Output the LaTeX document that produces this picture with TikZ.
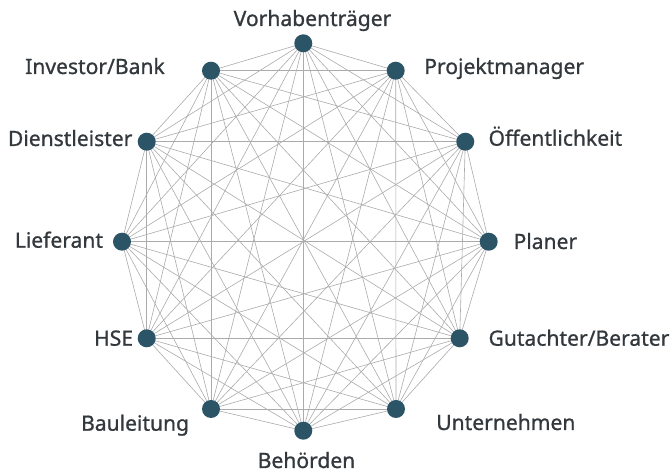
\documentclass[tikz,border=0pt]{standalone}
\usepackage{fontspec}
\setmainfont{Noto Sans}[FakeBold=0.9]
\usetikzlibrary{backgrounds}
\definecolor{dotblue}{RGB}{44,84,103}
\definecolor{labelgray}{RGB}{50,56,60}

\begin{document}
\begin{tikzpicture}[x=0.75pt, y=-0.75pt, font=\fontsize{15.8}{19}\selectfont\bfseries,
    dot/.style={circle, fill=dotblue, minimum size=13.5pt, inner sep=0pt},
    link/.style={black!33, line width=0.45pt},
    lbl/.style={text=labelgray, inner sep=0pt}]
\useasboundingbox (0,0) rectangle (672,473);
% the twelve parties, clockwise from the top
\foreach \x/\y/\n in {303.3/43.3/1, 395.7/70.7/2, 465.3/141.7/3, 488.7/241.7/4,
    459.7/338.3/5, 396/409/6, 303.3/430.7/7, 211/409/8, 146.7/338.3/9,
    122/241.7/10, 146.7/141.7/11, 211/70.7/12}
  {\node[dot] (p\n) at (\x,\y) {};}
% everyone talks to everyone
\begin{scope}[on background layer]
\foreach \i in {1,...,12} {\foreach \j in {1,...,12} {%
  \ifnum\i<\j \draw[link] (p\i.center) -- (p\j.center);\fi}}
\end{scope}
% names
\node[lbl, anchor=base] (vor) at (312.5,26) {Vorhabenträger};
\node[lbl, anchor=base west] (pm) at (424,74) {Projektmanager};
\node[lbl, anchor=base west] (oef) at (488.3,145.7) {Öffentlichkeit};
\node[lbl, anchor=base west] (plan) at (513.3,249) {Planer};
\node[lbl, anchor=base west] (gut) at (488.3,345.7) {Gutachter/Berater};
\node[lbl, anchor=base west] (unt) at (436,430) {Unternehmen};
\node[lbl, anchor=base] (beh) at (306.5,468) {Behörden};
\node[lbl, anchor=base east] (bau) at (189.3,430.7) {Bauleitung};
\node[lbl, anchor=base east] (hse) at (133.3,345.7) {HSE};
\node[lbl, anchor=base east] (lief) at (103.3,247.7) {Lieferant};
\node[lbl, anchor=base east] (dienst) at (132.7,146) {Dienstleister};
\node[lbl, anchor=base east] (inv) at (165,74) {Investor/Bank};
\end{tikzpicture}
\end{document}
